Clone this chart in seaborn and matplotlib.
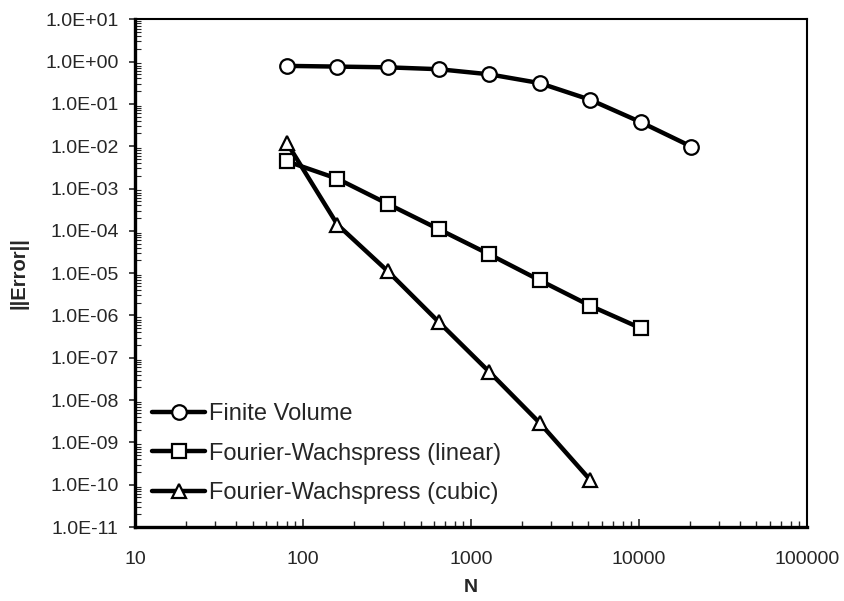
import numpy as np
import pandas as pd
import matplotlib
matplotlib.use("Agg")
import matplotlib.pyplot as plt
import matplotlib.ticker as mticker
import seaborn as sns

# Dati
n_fv = [80, 160, 320, 640, 1280, 2560, 5120, 10240, 20480]
err_fv = [0.79, 0.76, 0.73, 0.66, 0.50, 0.31, 0.125, 0.037, 0.0098]

n_lin = [80, 160, 320, 640, 1280, 2560, 5120, 10240]
err_lin = [4.4e-3, 1.7e-3, 4.3e-4, 1.1e-4, 2.8e-5, 6.8e-6, 1.7e-6, 5.0e-7]

n_cub = [80, 160, 320, 640, 1280, 2560, 5120]
err_cub = [1.2e-2, 1.4e-4, 1.1e-5, 7.1e-7, 4.7e-8, 2.9e-9, 1.3e-10]

labels = ["Finite Volume", "Fourier-Wachspress (linear)", "Fourier-Wachspress (cubic)"]
markers = ["o", "s", "^"]

sns.set_theme(style="white")
plt.rcParams['font.family'] = ['Liberation Sans', 'DejaVu Sans']

fig = plt.figure(figsize=(8.45, 6.01), dpi=100)
ax = fig.add_axes([0.160, 0.123, 0.795, 0.845])

series = [(n_fv, err_fv), (n_lin, err_lin), (n_cub, err_cub)]
for (xs, ys), lab, mk in zip(series, labels, markers):
    sns.lineplot(x=xs, y=ys, ax=ax, color="black", linewidth=3.2, marker=mk,
                 markersize=10.5 if mk != "s" else 10, markerfacecolor="white",
                 markeredgecolor="black", markeredgewidth=1.6, label=lab)

ax.set_xscale("log")
ax.set_yscale("log")
ax.set_xlim(10, 100000)
ax.set_ylim(1e-11, 10)

ax.xaxis.set_major_locator(mticker.LogLocator(base=10, numticks=10))
ax.xaxis.set_major_formatter(mticker.FuncFormatter(lambda v, p: f"{v:.0f}"))
ax.xaxis.set_minor_locator(mticker.LogLocator(base=10, subs=np.arange(2, 10), numticks=20))
ax.xaxis.set_minor_formatter(mticker.NullFormatter())

ax.yaxis.set_major_locator(mticker.LogLocator(base=10, numticks=20))
ax.yaxis.set_major_formatter(mticker.FuncFormatter(lambda v, p: f"{v:.1E}"))
ax.yaxis.set_minor_locator(mticker.LogLocator(base=10, subs=np.arange(2, 10), numticks=30))
ax.yaxis.set_minor_formatter(mticker.NullFormatter())

ax.tick_params(axis="y", which="major", direction="out", length=4, width=1.2,
               labelsize=14, left=True, pad=8)
ax.tick_params(axis="y", which="minor", direction="in", length=4, width=0.8, left=True)
ax.tick_params(axis="x", which="major", direction="in", length=6, width=1.2,
               labelsize=14, bottom=True, pad=17)
ax.tick_params(axis="x", which="minor", direction="in", length=4, width=1.0, bottom=True)

for side in ["left", "bottom"]:
    ax.spines[side].set_linewidth(2.4)
    ax.spines[side].set_color("black")
for side in ["top", "right"]:
    ax.spines[side].set_linewidth(1.5)
    ax.spines[side].set_color("black")

ax.set_xlabel("N", fontsize=14, fontweight="bold", labelpad=8)
ax.set_ylabel("||Error||", fontsize=14.5, fontweight="bold", labelpad=12)

ax.legend(loc="lower left", bbox_to_anchor=(0.025, 0.045), frameon=False,
          fontsize=17, handlelength=2.25, handletextpad=0.17, labelspacing=0.75,
          borderpad=0, borderaxespad=0)

fig.savefig("out.png", dpi=100)
